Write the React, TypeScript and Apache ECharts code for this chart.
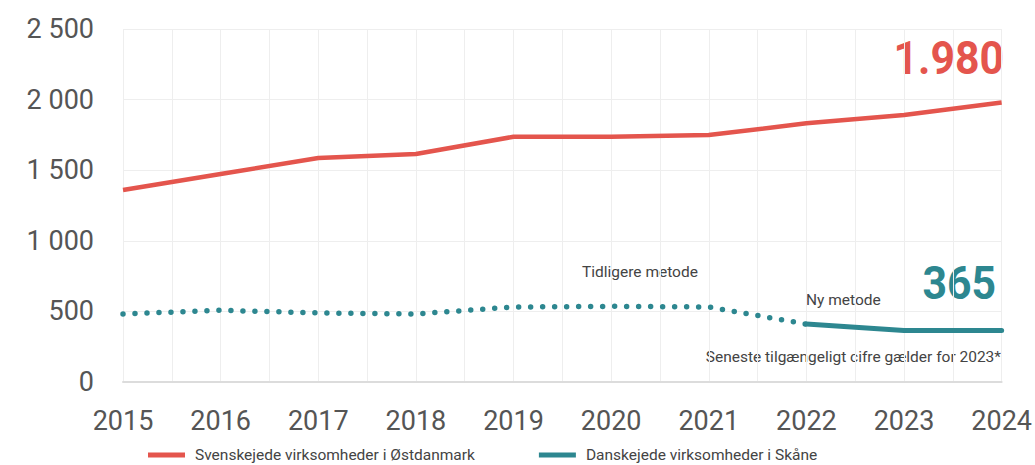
import React, { useEffect, useRef } from "react";
import * as echarts from "echarts";

const years = [2015, 2016, 2017, 2018, 2019, 2020, 2021, 2022, 2023, 2024];
const svenskejede = [1360, 1473, 1586, 1615, 1737, 1737, 1749, 1832, 1891, 1980];
const danskejedeTidligere = [482, 508, 489, 482, 531, 536, 531, 410, null, null];
const danskejedeNy = [null, null, null, null, null, null, null, 410, 365, 365];
const yTicks = [0, 500, 1000, 1500, 2000, 2500];

const nameSv = "Svenskejede virksomheder i Østdanmark";
const nameDk = "Danskejede virksomheder i Skåne";
const RED = "#E4554D";
const TEAL = "#2D8790";
const FONT = "Roboto, 'Noto Sans', sans-serif";

const pairs = (vals: (number | null)[]) => years.map((y, i) => [y, vals[i]]);

export default function App() {
  const ref = useRef<HTMLDivElement>(null);
  useEffect(() => {
    if (!ref.current) return;
    const chart = echarts.init(ref.current, null, { renderer: "svg" });
    chart.setOption({
      animation: false,
      grid: { left: 123, right: 33, top: 29, bottom: 83 },
      xAxis: {
        type: "value",
        min: years[0],
        max: years[years.length - 1],
        interval: 0.5,
        axisLine: { show: true, lineStyle: { color: "#dcdcdc", width: 2 } },
        axisTick: { show: false },
        axisLabel: {
          margin: 25,
          fontSize: 27,
          color: "#555",
          fontFamily: FONT,
          formatter: (v: number) => (Number.isInteger(v) ? String(v) : ""),
        },
        splitLine: { show: true, lineStyle: { color: "#eeeeee", width: 1 } },
      },
      yAxis: {
        type: "value",
        min: yTicks[0],
        max: yTicks[yTicks.length - 1],
        interval: 500,
        axisLine: { show: false },
        axisTick: { show: false },
        axisLabel: {
          margin: 29,
          fontSize: 27,
          color: "#555",
          fontFamily: FONT,
          formatter: (v: number) => String(v).replace(/\B(?=(\d{3})+(?!\d))/g, " "),
        },
        splitLine: { show: true, lineStyle: { color: "#eeeeee", width: 1 } },
      },
      legend: {
        data: [nameSv, nameDk],
        left: 143,
        top: 442,
        padding: 5,
        icon: "rect",
        itemWidth: 37,
        itemHeight: 5,
        itemGap: 64,
        textStyle: { fontSize: 15.5, lineHeight: 15, color: "#444", fontFamily: FONT, padding: [0, 0, 0, 5] },
      },
      series: [
        {
          name: nameSv,
          type: "line",
          data: pairs(svenskejede),
          showSymbol: false,
          lineStyle: { color: RED, width: 4.5 },
          itemStyle: { color: RED },
        },
        {
          name: "tidligere",
          type: "line",
          data: pairs(danskejedeTidligere),
          showSymbol: false,
          connectNulls: false,
          lineStyle: { color: TEAL, width: 5.5, type: [0, 12], cap: "round" },
          itemStyle: { color: TEAL },
        },
        {
          name: nameDk,
          type: "line",
          data: pairs(danskejedeNy),
          showSymbol: false,
          lineStyle: { color: TEAL, width: 5, cap: "round" },
          itemStyle: { color: TEAL },
        },
      ],
      graphic: [
        {
          type: "text",
          x: 1004,
          y: 58,
          scaleX: 0.93,
          style: { text: "1.980", fill: RED, font: `bold 46px ${FONT}`, align: "right", verticalAlign: "middle" },
        },
        {
          type: "text",
          x: 996,
          y: 283,
          scaleX: 0.93,
          style: { text: "365", fill: TEAL, font: `bold 46px ${FONT}`, align: "right", verticalAlign: "middle" },
        },
        {
          type: "text",
          x: 582,
          y: 272,
          style: { text: "Tidligere metode", fill: "#444", font: `15.5px ${FONT}`, verticalAlign: "middle" },
        },
        {
          type: "text",
          x: 806,
          y: 300,
          style: { text: "Ny metode", fill: "#444", font: `15.5px ${FONT}`, verticalAlign: "middle" },
        },
        {
          type: "text",
          x: 1001,
          y: 357,
          style: {
            text: "Seneste tilgængeligt cifre gælder for 2023*",
            fill: "#444",
            font: `15.5px ${FONT}`,
            align: "right",
            verticalAlign: "middle",
          },
        },
      ],
    });
    return () => chart.dispose();
  }, []);
  return <div ref={ref} style={{ width: 1035, height: 465, position: "absolute", left: 0, top: 0 }} />;
}
